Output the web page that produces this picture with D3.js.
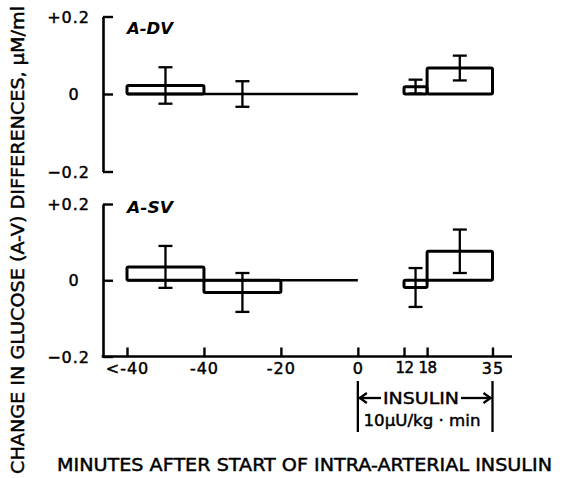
<!DOCTYPE html>
<html>
<head>
<meta charset="utf-8">
<script src="https://cdn.jsdelivr.net/npm/d3@7/dist/d3.min.js"></script>
<style>
  html, body { margin: 0; padding: 0; background: #fff; }
  svg { display: block; }
  text { font-family: "DejaVu Sans", sans-serif; fill: #000; stroke: #000; stroke-width: 0.45px; }
</style>
</head>
<body>
<svg id="chart" width="567" height="478"></svg>
<script>
// ---- data ----
const timeTicks  = [-60, -40, -20, 0, 12, 18, 35];
const tickLabels = ["<-40", "-40", "-20", "0", "12", "18", "35"];
const periodStart = [-60, -40, 12, 18];
const periodEnd   = [-40, -20, 18, 35];
const advMean = [0.022, 0.000, 0.019, 0.067];
const advSE   = [0.047, 0.033, 0.018, 0.032];
const asvMean = [0.035, -0.032, -0.019, 0.076];
const asvSE   = [0.055, 0.051, 0.051, 0.057];
const yTicks = [-0.2, 0, 0.2];
const yTickLabels = ["\u22120.2", "0", "+0.2"];
const panelNames = ["A-DV", "A-SV"];

// ---- layout ----
const svg = d3.select("#chart");
const axisX = 103;
const x = d3.scaleLinear().domain([-60, 35]).range([127, 492.5]);
const panels = [
  { name: panelNames[0], mean: advMean, se: advSE, y: d3.scaleLinear().domain([-0.2, 0.2]).range([171.5, 16.5]), labelY: 34, xAxis: false },
  { name: panelNames[1], mean: asvMean, se: asvSE, y: d3.scaleLinear().domain([-0.2, 0.2]).range([356.5, 204]), labelY: 213, xAxis: true }
];

panels.forEach(p => {
  const g = svg.append("g");
  const y = p.y;

  // y axis (ticks pointing inward)
  const ya = g.append("g")
    .attr("transform", `translate(${axisX},0)`)
    .call(d3.axisLeft(y).tickValues(yTicks)
      .tickSizeInner(-10).tickSizeOuter(0).tickPadding(13)
      .tickFormat((d, i) => yTickLabels[i]));
  ya.select(".domain").attr("stroke", "#000").attr("stroke-width", 2.6);
  ya.selectAll(".tick line").attr("stroke", "#000").attr("stroke-width", 2.4);
  ya.selectAll(".tick text")
    .style("font-size", "16px").style("letter-spacing", "1px")
    .attr("dy", "0.35em");
  ya.selectAll(".tick text").filter(d => d === 0)
    .attr("text-anchor", "middle").attr("x", -29);

  // panel label
  g.append("text").attr("x", 127).attr("y", p.labelY)
    .text(p.name)
    .attr("textLength", 46).attr("lengthAdjust", "spacingAndGlyphs")
    .style("font-size", "16px").style("font-weight", "bold").style("font-style", "italic")
    .style("stroke-width", "0px");

  // zero line across the pre-insulin period
  g.append("line")
    .attr("x1", x(periodStart[0])).attr("x2", x(0))
    .attr("y1", y(0)).attr("y2", y(0))
    .attr("stroke", "#000").attr("stroke-width", 2.6);

  // bars
  p.mean.forEach((m, i) => {
    const x0 = x(periodStart[i]), x1 = x(periodEnd[i]);
    const yTop = y(Math.max(m, 0)), yBot = y(Math.min(m, 0));
    if (Math.abs(yBot - yTop) > 0.5) {
      g.append("rect")
        .attr("x", x0).attr("y", yTop)
        .attr("width", x1 - x0).attr("height", yBot - yTop)
        .attr("rx", 1.5)
        .attr("fill", "none").attr("stroke", "#000").attr("stroke-width", 3);
    }
  });

  // error bars
  p.mean.forEach((m, i) => {
    const cx = x((periodStart[i] + periodEnd[i]) / 2);
    const hi = y(m + p.se[i]), lo = y(m - p.se[i]);
    const eg = g.append("g").attr("stroke", "#000").attr("stroke-width", 2.3);
    eg.append("line").attr("x1", cx).attr("x2", cx).attr("y1", hi).attr("y2", lo);
    eg.append("line").attr("x1", cx - 7).attr("x2", cx + 7).attr("y1", hi).attr("y2", hi);
    eg.append("line").attr("x1", cx - 7).attr("x2", cx + 7).attr("y1", lo).attr("y2", lo);
  });

  if (p.xAxis) {
    const y0 = y.range()[0];
    const xa = g.append("g")
      .attr("transform", `translate(0,${y0})`)
      .call(d3.axisBottom(x).tickValues(timeTicks)
        .tickSizeInner(-9).tickSizeOuter(0).tickPadding(6)
        .tickFormat((d, i) => tickLabels[i]));
    xa.select(".domain").remove();
    xa.selectAll(".tick line").attr("stroke", "#000").attr("stroke-width", 2.4);
    xa.selectAll(".tick text").style("font-size", "16px").style("letter-spacing", "1px");
    xa.selectAll(".tick text").filter(d => d === 12 || d === 18)
      .style("letter-spacing", "-0.5px").style("font-size", "15px");
    g.append("line").attr("x1", axisX - 1.3).attr("x2", 512)
      .attr("y1", y0).attr("y2", y0)
      .attr("stroke", "#000").attr("stroke-width", 2.6);
  }
});

// insulin infusion bracket
const bx0 = x(0), bx1 = x(35);
const br = svg.append("g").attr("stroke", "#000").attr("stroke-width", 2.3).attr("fill", "none");
br.append("line").attr("x1", bx0).attr("x2", bx0).attr("y1", 381).attr("y2", 432);
br.append("line").attr("x1", bx1).attr("x2", bx1).attr("y1", 381).attr("y2", 432);
// arrows
br.append("line").attr("x1", bx0 + 1).attr("x2", 381).attr("y1", 398).attr("y2", 398);
br.append("path").attr("d", `M${bx0 + 9},${393} L${bx0 + 2},398 L${bx0 + 9},${403}`);
br.append("line").attr("x1", 461).attr("x2", bx1 - 1).attr("y1", 398).attr("y2", 398);
br.append("path").attr("d", `M${bx1 - 9},${393} L${bx1 - 2},398 L${bx1 - 9},${403}`);
svg.append("text").attr("x", 421).attr("y", 404).attr("text-anchor", "middle")
  .attr("textLength", 76).attr("lengthAdjust", "spacingAndGlyphs")
  .style("font-size", "16px").text("INSULIN");
svg.append("text").attr("x", 422).attr("y", 426).attr("text-anchor", "middle")
  .attr("textLength", 117).attr("lengthAdjust", "spacingAndGlyphs")
  .style("font-size", "16px").text("10\u03bcU/kg \u00b7 min");

// axis titles
svg.append("text").attr("x", 304.5).attr("y", 471).attr("text-anchor", "middle")
  .attr("textLength", 495).attr("lengthAdjust", "spacingAndGlyphs")
  .style("font-size", "17px")
  .text("MINUTES AFTER START OF INTRA-ARTERIAL INSULIN");
svg.append("text").attr("transform", "translate(24,240) rotate(-90)").attr("text-anchor", "middle")
  .attr("textLength", 468).attr("lengthAdjust", "spacingAndGlyphs")
  .style("font-size", "17px")
  .text("CHANGE IN GLUCOSE (A-V) DIFFERENCES, \u03bcM/ml");
</script>
</body>
</html>
